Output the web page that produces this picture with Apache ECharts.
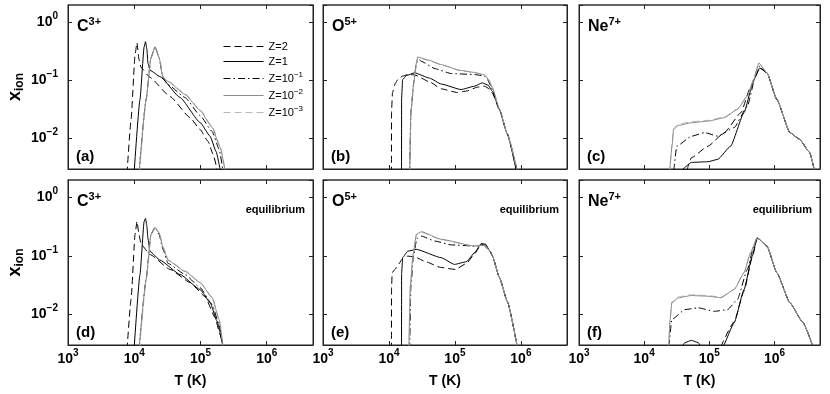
<!DOCTYPE html>
<html>
<head>
<meta charset="utf-8">
<script src="https://cdn.jsdelivr.net/npm/echarts@6/dist/echarts.min.js"></script>
<style>
html, body { margin: 0; padding: 0; background: #fff; }
#chart { width: 830px; height: 394px; }
</style>
</head>
<body>
<div id="chart"></div>
<script>
// axis ranges (log scales)
var tMin = 1e3, tMax = 5e6;
var xMin = 0.003, xMax = 2;

var seriesNames = ['Z=2', 'Z=1', 'Z=10^-1', 'Z=10^-2', 'Z=10^-3'];
var ionNames = [['C', '3+'], ['O', '5+'], ['Ne', '7+']];
var panelTags = ['(a)', '(b)', '(c)', '(d)', '(e)', '(f)'];

// (a) C3+ , non-equilibrium  [T (K), x_ion]
var a_z2 = [[7780,0.0025],[8950,0.021],[10300,0.28],[11000,0.45],[11800,0.23],[12700,0.167],[17300,0.113],[34800,0.053],[69700,0.023],[98600,0.0144],[130000,0.009],[155000,0.0054],[180000,0.0028]];
var a_z1 = [[9930,0.0025],[12200,0.047],[14100,0.38],[14800,0.467],[15500,0.35],[16100,0.2],[17300,0.15],[24500,0.117],[49200,0.051],[98600,0.019],[140000,0.011],[172000,0.006],[200000,0.0028]];
var a_z1e1 = [[11800,0.0025],[15100,0.047],[17900,0.248],[20600,0.383],[23700,0.25],[27200,0.11],[32400,0.085],[58500,0.0511],[98600,0.0251],[150000,0.0133],[191000,0.0066],[219000,0.0028]];
var a_z1e2 = [[11800,0.0025],[15100,0.047],[17900,0.248],[20600,0.383],[23700,0.25],[27200,0.113],[32400,0.096],[58500,0.0575],[98600,0.0306],[150000,0.0156],[198000,0.0071],[235000,0.0028]];
var a_z1e3 = [[12000,0.0025],[15300,0.05],[18000,0.25],[20800,0.37],[24000,0.25],[27500,0.115],[33000,0.097],[60000,0.058],[100000,0.031],[152000,0.0158],[200000,0.0072],[236000,0.0028]];

// (b) O5+
var b_z2 = [[10900,0.0025],[10950,0.03],[11300,0.062],[12500,0.09],[13600,0.104],[16000,0.119],[19200,0.127],[24500,0.125],[41300,0.095],[62100,0.072],[109000,0.0622],[150000,0.066],[220000,0.077],[280000,0.08],[333000,0.072],[370000,0.06],[472000,0.0318],[624000,0.0119],[860000,0.0028]];
var b_z1 = [[15500,0.0025],[15550,0.05],[16100,0.104],[18400,0.122],[24500,0.136],[41300,0.11],[62100,0.087],[124000,0.07],[198000,0.08],[260000,0.0914],[320000,0.083],[370000,0.065],[472000,0.0318],[624000,0.0119],[850000,0.0028]];
var b_z1e1 = [[20600,0.0025],[21500,0.03],[24000,0.1],[26000,0.2],[28500,0.23],[31000,0.214],[50000,0.16],[87900,0.132],[198000,0.127],[280000,0.12],[311000,0.104],[370000,0.07],[472000,0.0318],[624000,0.012],[880000,0.0028]];
var b_z1e2 = [[20600,0.0025],[21500,0.03],[24000,0.1],[26000,0.2],[27200,0.255],[40000,0.225],[62100,0.188],[120000,0.15],[198000,0.138],[280000,0.125],[333000,0.1],[370000,0.075],[472000,0.0325],[624000,0.012],[880000,0.0028]];
var b_z1e3 = [[20800,0.0025],[21700,0.03],[24200,0.1],[26200,0.2],[27500,0.25],[40000,0.222],[62100,0.186],[120000,0.148],[198000,0.137],[280000,0.124],[333000,0.1],[370000,0.075],[472000,0.0325],[624000,0.012],[880000,0.0028]];

// (c) Ne7+
var c_tail = [[768000,0.136],[1087000,0.0472],[1726000,0.0127],[2443000,0.0097],[3459000,0.0058],[4120000,0.0028]];
var c_z2 = [[45000,0.0028],[53300,0.0047],[95300,0.0074],[170000,0.0127],[306000,0.028],[434000,0.08],[596000,0.165]];
var c_z1 = [[37200,0.0028],[53300,0.0039],[95300,0.004],[135000,0.0044],[212000,0.0074],[341000,0.028],[483000,0.104],[596000,0.165]];
var c_z1e1 = [[28500,0.0028],[31600,0.0074],[53300,0.011],[84900,0.0127],[135000,0.011],[241000,0.0155],[383000,0.036],[542000,0.154],[590000,0.176]];
var c_z1e2 = [[24500,0.0025],[27000,0.008],[28200,0.0144],[33500,0.0169],[53300,0.0188],[95300,0.02],[170000,0.0229],[270000,0.0318],[383000,0.0538],[483000,0.104],[575000,0.201]];
var c_z1e3 = [[24500,0.0025],[27000,0.0085],[28200,0.015],[33500,0.0178],[53300,0.0196],[95300,0.0206],[170000,0.0236],[270000,0.0325],[383000,0.055],[483000,0.106],[575000,0.2]];

// (d) C3+ , equilibrium
var d_z2 = [[7780,0.0025],[8950,0.018],[10300,0.235],[11000,0.392],[11800,0.235],[12700,0.158],[17300,0.106],[34800,0.0589],[69700,0.0352],[117000,0.0203],[166000,0.0089],[198000,0.0045],[219000,0.0028]];
var d_z1 = [[9930,0.0025],[12200,0.048],[14100,0.39],[14800,0.442],[15500,0.33],[16100,0.2],[17300,0.12],[24500,0.085],[49200,0.0483],[98600,0.0267],[140000,0.016],[178000,0.0076],[219000,0.0028]];
var d_z1e1 = [[11800,0.0025],[15100,0.04],[17900,0.235],[20600,0.31],[23700,0.235],[27200,0.13],[32400,0.0746],[58500,0.0483],[98600,0.0289],[150000,0.0148],[191000,0.0067],[219000,0.0028]];
var d_z1e2 = [[11800,0.0025],[15100,0.04],[17900,0.235],[20600,0.31],[23700,0.25],[27200,0.14],[32400,0.0841],[58500,0.0545],[98600,0.0352],[150000,0.0195],[191000,0.0082],[219000,0.0028]];
var d_z1e3 = [[12000,0.0025],[15300,0.042],[18000,0.235],[20800,0.3],[24000,0.245],[27500,0.14],[33000,0.085],[60000,0.055],[100000,0.035],[152000,0.0192],[192000,0.0081],[220000,0.0028]];

// (e) O5+ , equilibrium
var e_tail = [[340000,0.122],[370000,0.1],[472000,0.043],[624000,0.0166],[880000,0.0028]];
var e_z2 = [[10900,0.0025],[10950,0.03],[11200,0.052],[12500,0.06],[13600,0.07],[16100,0.09],[19200,0.0995],[24500,0.097],[36000,0.08],[60000,0.064],[102000,0.0589],[150000,0.075],[200000,0.11],[250000,0.16],[290000,0.155]];
var e_z1 = [[15500,0.0025],[15550,0.05],[16100,0.0935],[19200,0.121],[26000,0.13],[62100,0.0935],[98600,0.0718],[150000,0.08],[200000,0.115],[250000,0.163],[290000,0.16]];
var e_z1e1 = [[20600,0.0025],[21500,0.03],[23500,0.1],[26500,0.2],[31000,0.219],[50000,0.18],[88000,0.155],[200000,0.148],[270000,0.154]];
var e_z1e2 = [[20000,0.0025],[21000,0.03],[23000,0.1],[26000,0.235],[31000,0.261],[62100,0.193],[198000,0.148],[270000,0.154]];
var e_z1e3 = [[20200,0.0025],[21200,0.03],[23200,0.1],[26200,0.23],[31000,0.255],[62100,0.19],[198000,0.147],[270000,0.153]];

// (f) Ne7+ , equilibrium
var f_tail = [[768000,0.148],[1087000,0.0517],[1726000,0.0158],[2754000,0.0072],[3898000,0.0028]];
var f_z2 = [[150000,0.0028],[241000,0.0075],[341000,0.025],[456000,0.095],[542000,0.2]];
var f_z1 = [[36000,0.0025],[42300,0.0033],[53300,0.0036],[67300,0.0033],[80000,0.0025],[120000,0.0018],[160000,0.0028],[241000,0.0072],[341000,0.0267],[456000,0.0996],[542000,0.206]];
var f_z1e1 = [[24000,0.0028],[26600,0.0082],[42300,0.0121],[67300,0.013],[120000,0.0113],[191000,0.0121],[270000,0.018],[383000,0.0589],[483000,0.148],[542000,0.206]];
var f_z1e2 = [[23700,0.0025],[25000,0.008],[26600,0.0158],[33500,0.0193],[53300,0.0211],[95300,0.0205],[151000,0.0193],[241000,0.0267],[341000,0.0517],[430000,0.114],[542000,0.206]];
var f_z1e3 = [[23700,0.0025],[25000,0.0085],[26600,0.0165],[33500,0.02],[53300,0.0218],[95300,0.021],[151000,0.0198],[241000,0.027],[341000,0.052],[430000,0.114],[542000,0.206]];

var panelData = [
    [a_z2, a_z1, a_z1e1, a_z1e2, a_z1e3],
    [b_z2, b_z1, b_z1e1, b_z1e2, b_z1e3],
    [c_z2.concat(c_tail), c_z1.concat(c_tail), c_z1e1.concat(c_tail), c_z1e2.concat(c_tail), c_z1e3.concat(c_tail)],
    [d_z2, d_z1, d_z1e1, d_z1e2, d_z1e3],
    [e_z2.concat(e_tail), e_z1.concat(e_tail), e_z1e1.concat(e_tail), e_z1e2.concat(e_tail), e_z1e3.concat(e_tail)],
    [f_z2.concat(f_tail), f_z1.concat(f_tail), f_z1e1.concat(f_tail), f_z1e2.concat(f_tail), f_z1e3.concat(f_tail)]
];

var lineStyles = [
    {color: '#000', type: [7, 4], width: 1},
    {color: '#000', type: 'solid', width: 1},
    {color: '#000', type: [7, 3, 1.5, 3], width: 1},
    {color: '#8a8a8a', type: 'solid', width: 1},
    {color: '#b8b8b8', type: [7, 4], width: 1}
];
// grey curves on top, as in the figure
var drawOrder = [0, 1, 2, 4, 3];

var grids = [
    {left: 68, top: 5, width: 245, height: 164},
    {left: 323, top: 5, width: 244, height: 164},
    {left: 579, top: 5, width: 241, height: 164},
    {left: 68, top: 180, width: 245, height: 165},
    {left: 323, top: 180, width: 244, height: 165},
    {left: 579, top: 180, width: 241, height: 165}
];

var FONT = 'Liberation Sans';
var supRich = {
    b: {fontSize: 14, fontWeight: 'bold', fontFamily: FONT, color: '#000', lineHeight: 14, verticalAlign: 'bottom'},
    s: {fontSize: 10, fontWeight: 'bold', fontFamily: FONT, color: '#000', lineHeight: 10, padding: [0, 0, 8, 0], verticalAlign: 'bottom'}
};

function powLabel(v) {
    var e = Math.log10(v);
    var r = Math.round(e);
    if (Math.abs(e - r) > 1e-6) return '';
    return '{b|10}{s|' + String(r).replace('-', '\u2212') + '}';
}

var axisColor = '#222';
var xAxes = [], yAxes = [], series = [], graphics = [];

grids.forEach(function (g, i) {
    var bottomRow = i >= 3, leftCol = i % 3 === 0;
    var common = {
        type: 'log', logBase: 10, gridIndex: i,
        axisLine: {show: true, onZero: false, lineStyle: {color: axisColor, width: 1}},
        axisTick: {show: true, inside: true, length: 4, lineStyle: {color: axisColor}},
        splitLine: {show: false}
    };
    xAxes.push(Object.assign({}, common, {
        min: tMin, max: tMax, position: 'bottom',
        axisLabel: {show: bottomRow, formatter: powLabel, rich: supRich, margin: 7, showMinLabel: true, showMaxLabel: false},
        name: bottomRow ? 'T (K)' : '', nameLocation: 'middle', nameGap: 29,
        nameTextStyle: {fontSize: 14, fontWeight: 'bold', fontFamily: FONT, color: '#000'}
    }));
    xAxes.push(Object.assign({}, common, {
        min: tMin, max: tMax, position: 'top', axisLabel: {show: false},
        axisLine: {show: true, onZero: false, lineStyle: {color: '#555', width: 1.5}}
    }));
    yAxes.push(Object.assign({}, common, {
        min: xMin, max: xMax, position: 'left',
        axisLabel: {show: leftCol, formatter: powLabel, rich: supRich, margin: 10, showMinLabel: false, showMaxLabel: false},
        name: leftCol ? '{x|x}{s|ion}' : '', nameLocation: 'middle', nameGap: 44, nameRotate: 90,
        nameTextStyle: {
            rich: {
                x: {fontSize: 18, fontWeight: 'bold', fontFamily: FONT, color: '#000', verticalAlign: 'top', lineHeight: 18},
                s: {fontSize: 12, fontWeight: 'bold', fontFamily: FONT, color: '#000', verticalAlign: 'top', lineHeight: 12, padding: [8, 0, 0, 0]}
            }
        }
    }));
    yAxes.push(Object.assign({}, common, {
        min: xMin, max: xMax, position: 'right', axisLabel: {show: false}
    }));

    drawOrder.forEach(function (k) {
        series.push({
            name: seriesNames[k], type: 'line',
            xAxisIndex: i * 2, yAxisIndex: i * 2,
            data: panelData[i][k],
            showSymbol: false, symbol: 'none',
            smooth: 0.15, smoothMonotone: 'x',
            clip: true,
            lineStyle: lineStyles[k],
            itemStyle: {color: lineStyles[k].color},
            emphasis: {disabled: true},
            silent: true, animation: false
        });
    });

    var ion = ionNames[i % 3];
    graphics.push({
        type: 'text', left: g.left + 9, top: g.top + 11,
        style: {
            text: '{b|' + ion[0] + '}{s|' + ion[1] + '}',
            rich: {
                b: {fontSize: 16, fontWeight: 'bold', fontFamily: FONT, fill: '#000', lineHeight: 16, verticalAlign: 'bottom'},
                s: {fontSize: 11, fontWeight: 'bold', fontFamily: FONT, fill: '#000', lineHeight: 11, padding: [0, 0, 8, 0], verticalAlign: 'bottom'}
            }
        }
    });
    graphics.push({
        type: 'text', left: g.left + 8, top: g.top + g.height - 20,
        style: {text: panelTags[i], font: 'bold 15px "Liberation Sans"', fill: '#000'}
    });
    if (bottomRow) {
        graphics.push({
            type: 'text', right: 830 - (g.left + g.width) + 8, top: g.top + 24,
            style: {text: 'equilibrium', font: 'bold 11px "Liberation Sans"', fill: '#000'}
        });
    }
});

var legendRich = {
    n: {fontSize: 11, fontFamily: FONT, color: '#000', lineHeight: 11, verticalAlign: 'bottom'},
    s: {fontSize: 8, fontFamily: FONT, color: '#000', lineHeight: 8, padding: [0, 0, 5, 0], verticalAlign: 'bottom'}
};

var chart = echarts.init(document.getElementById('chart'), null, {renderer: 'canvas'});
chart.setOption({
    backgroundColor: '#fff',
    animation: false,
    grid: grids.map(function (g) {
        return Object.assign({show: true, borderColor: axisColor, borderWidth: 1, backgroundColor: 'transparent'}, g);
    }),
    xAxis: xAxes,
    yAxis: yAxes,
    legend: {
        left: 218, top: 36, orient: 'vertical',
        itemWidth: 40, itemHeight: 10, itemGap: 4,
        data: seriesNames,
        selectedMode: false,
        itemStyle: {opacity: 0},
        lineStyle: {width: 1},
        formatter: function (name) {
            var m = name.match(/^Z=10\^(-\d)$/);
            if (m) return '{n|Z=10}{s|' + m[1].replace('-', '\u2212') + '}';
            return '{n|' + name + '}';
        },
        textStyle: {rich: legendRich}
    },
    graphic: graphics,
    series: series
});
</script>
</body>
</html>
